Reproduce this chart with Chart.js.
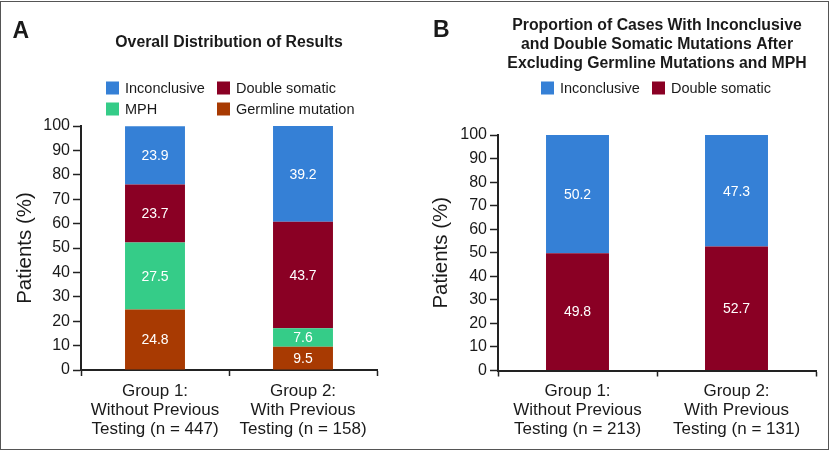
<!DOCTYPE html>
<html><head><meta charset="utf-8">
<script src="https://cdn.jsdelivr.net/npm/chart.js@4"></script>
<style>
html,body{margin:0;padding:0;background:#fff;}
#wrap{position:relative;width:832px;height:452px;overflow:hidden;background:#fff;}
#frame{position:absolute;left:0;top:1px;width:827px;height:447px;border:1.5px solid #555;pointer-events:none;}
.cv{position:absolute;top:0;}
</style></head>
<body><div id="wrap">
<canvas id="cA" class="cv" style="left:0" width="416" height="452"></canvas>
<canvas id="cB" class="cv" style="left:416px" width="416" height="452"></canvas>
<div id="frame"></div>
</div>
<script>
// ---- data ----
const groupsA = [["Group 1:", "Without Previous", "Testing (n = 447)"], ["Group 2:", "With Previous", "Testing (n = 158)"]];
const groupsB = [["Group 1:", "Without Previous", "Testing (n = 213)"], ["Group 2:", "With Previous", "Testing (n = 131)"]];
const germlineA = [24.8, 9.5];
const mphA = [27.5, 7.6];
const doubleSomaticA = [23.7, 43.7];
const inconclusiveA = [23.9, 39.2];
const doubleSomaticB = [49.8, 52.7];
const inconclusiveB = [50.2, 47.3];
const titleA = ["Overall Distribution of Results"];
const titleB = ["Proportion of Cases With Inconclusive", "and Double Somatic Mutations After", "Excluding Germline Mutations and MPH"];
const yAxisTitle = "Patients (%)";

// ---- styles ----
const FAM = '"Liberation Sans", Arial, Helvetica, sans-serif';
const TXT = '#1a1a1a';
const AX = '#222';
const C_INC = '#3580d6', C_DS = '#8a0024', C_MPH = '#35cc88', C_GERM = '#a83a02';

const valueLabels = {
  id: 'valueLabels',
  afterDatasetsDraw(chart) {
    const ctx = chart.ctx;
    ctx.save();
    ctx.fillStyle = '#fff';
    ctx.font = '14px ' + FAM;
    ctx.textAlign = 'center';
    ctx.textBaseline = 'middle';
    chart.data.datasets.forEach((ds, i) => {
      chart.getDatasetMeta(i).data.forEach((bar, j) => {
        ctx.fillText(ds.data[j].toFixed(1), bar.x, (bar.y + bar.base) / 2 + 1);
      });
    });
    ctx.restore();
  }
};

const decor = {
  id: 'decor',
  afterDraw(chart, args, o) {
    const ctx = chart.ctx;
    ctx.save();
    ctx.fillStyle = TXT;
    ctx.font = 'bold 23px ' + FAM;
    ctx.textAlign = 'left';
    ctx.textBaseline = 'alphabetic';
    ctx.fillText(o.letter, o.letterX, o.letterY);
    ctx.font = 'bold 15.8px ' + FAM;
    ctx.textAlign = 'center';
    ctx.textBaseline = 'middle';
    const cx = (chart.chartArea.left + chart.chartArea.right) / 2;
    o.title.forEach((t, i) => ctx.fillText(t, cx, o.titleY + i * o.titleLH));
    ctx.font = '14.5px ' + FAM;
    ctx.textAlign = 'left';
    o.legend.forEach(item => {
      const ds = chart.data.datasets[item.ds];
      ctx.fillStyle = ds.backgroundColor;
      ctx.fillRect(item.x, item.y - 6.5, 13, 13);
      ctx.fillStyle = TXT;
      ctx.fillText(ds.label, item.x + 19, item.y + 0.5);
    });
    ctx.restore();
  }
};

function scales(yWidth, xHeight) {
  return {
    x: {
      stacked: true,
      ticks: { color: TXT, font: { family: FAM, size: 17, lineHeight: '19px' }, padding: 5.5, maxRotation: 0, autoSkip: false },
      grid: { drawOnChartArea: false, offset: true, tickLength: 6, tickColor: AX, tickWidth: 1.5 },
      border: { display: true, color: AX, width: 2 },
      afterFit(s) { s.height = xHeight; }
    },
    y: {
      stacked: true, min: 0, max: 100,
      ticks: { stepSize: 10, color: TXT, font: { family: FAM, size: 16 }, padding: 3 },
      grid: { drawOnChartArea: false, tickLength: 8, tickColor: AX, tickWidth: 1.5 },
      border: { display: true, color: AX, width: 2 },
      title: { display: true, text: yAxisTitle, color: TXT, font: { family: FAM, size: 20.5 }, padding: { top: 13, bottom: 0 } },
      afterFit(s) { s.width = yWidth; }
    }
  };
}

new Chart(document.getElementById('cA'), {
  type: 'bar',
  data: {
    labels: groupsA,
    datasets: [
      { label: 'Germline mutation', data: germlineA, backgroundColor: C_GERM },
      { label: 'MPH', data: mphA, backgroundColor: C_MPH },
      { label: 'Double somatic', data: doubleSomaticA, backgroundColor: C_DS },
      { label: 'Inconclusive', data: inconclusiveA, backgroundColor: C_INC }
    ]
  },
  options: {
    responsive: false, animation: false,
    layout: { padding: { top: 126, right: 39, bottom: 0, left: 0 } },
    datasets: { bar: { barPercentage: 0.405, categoryPercentage: 1, borderWidth: 0 } },
    scales: scales(81, 82),
    plugins: {
      legend: { display: false }, title: { display: false }, tooltip: { enabled: false },
      decor: {
        letter: 'A', letterX: 12.5, letterY: 38,
        title: titleA, titleY: 43, titleLH: 19,
        legend: [
          { ds: 3, x: 106, y: 88 }, { ds: 2, x: 217, y: 88 },
          { ds: 1, x: 106, y: 109 }, { ds: 0, x: 217, y: 109 }
        ]
      }
    }
  },
  plugins: [valueLabels, decor]
});

new Chart(document.getElementById('cB'), {
  type: 'bar',
  data: {
    labels: groupsB,
    datasets: [
      { label: 'Double somatic', data: doubleSomaticB, backgroundColor: C_DS },
      { label: 'Inconclusive', data: inconclusiveB, backgroundColor: C_INC }
    ]
  },
  options: {
    responsive: false, animation: false,
    layout: { padding: { top: 135, right: 16, bottom: 0, left: 0 } },
    datasets: { bar: { barPercentage: 0.396, categoryPercentage: 1, borderWidth: 0 } },
    scales: scales(82, 81.5),
    plugins: {
      legend: { display: false }, title: { display: false }, tooltip: { enabled: false },
      decor: {
        letter: 'B', letterX: 17, letterY: 37,
        title: titleB, titleY: 25.5, titleLH: 19,
        legend: [
          { ds: 1, x: 125, y: 88 }, { ds: 0, x: 236, y: 88 }
        ]
      }
    }
  },
  plugins: [valueLabels, decor]
});
</script>
</body></html>
